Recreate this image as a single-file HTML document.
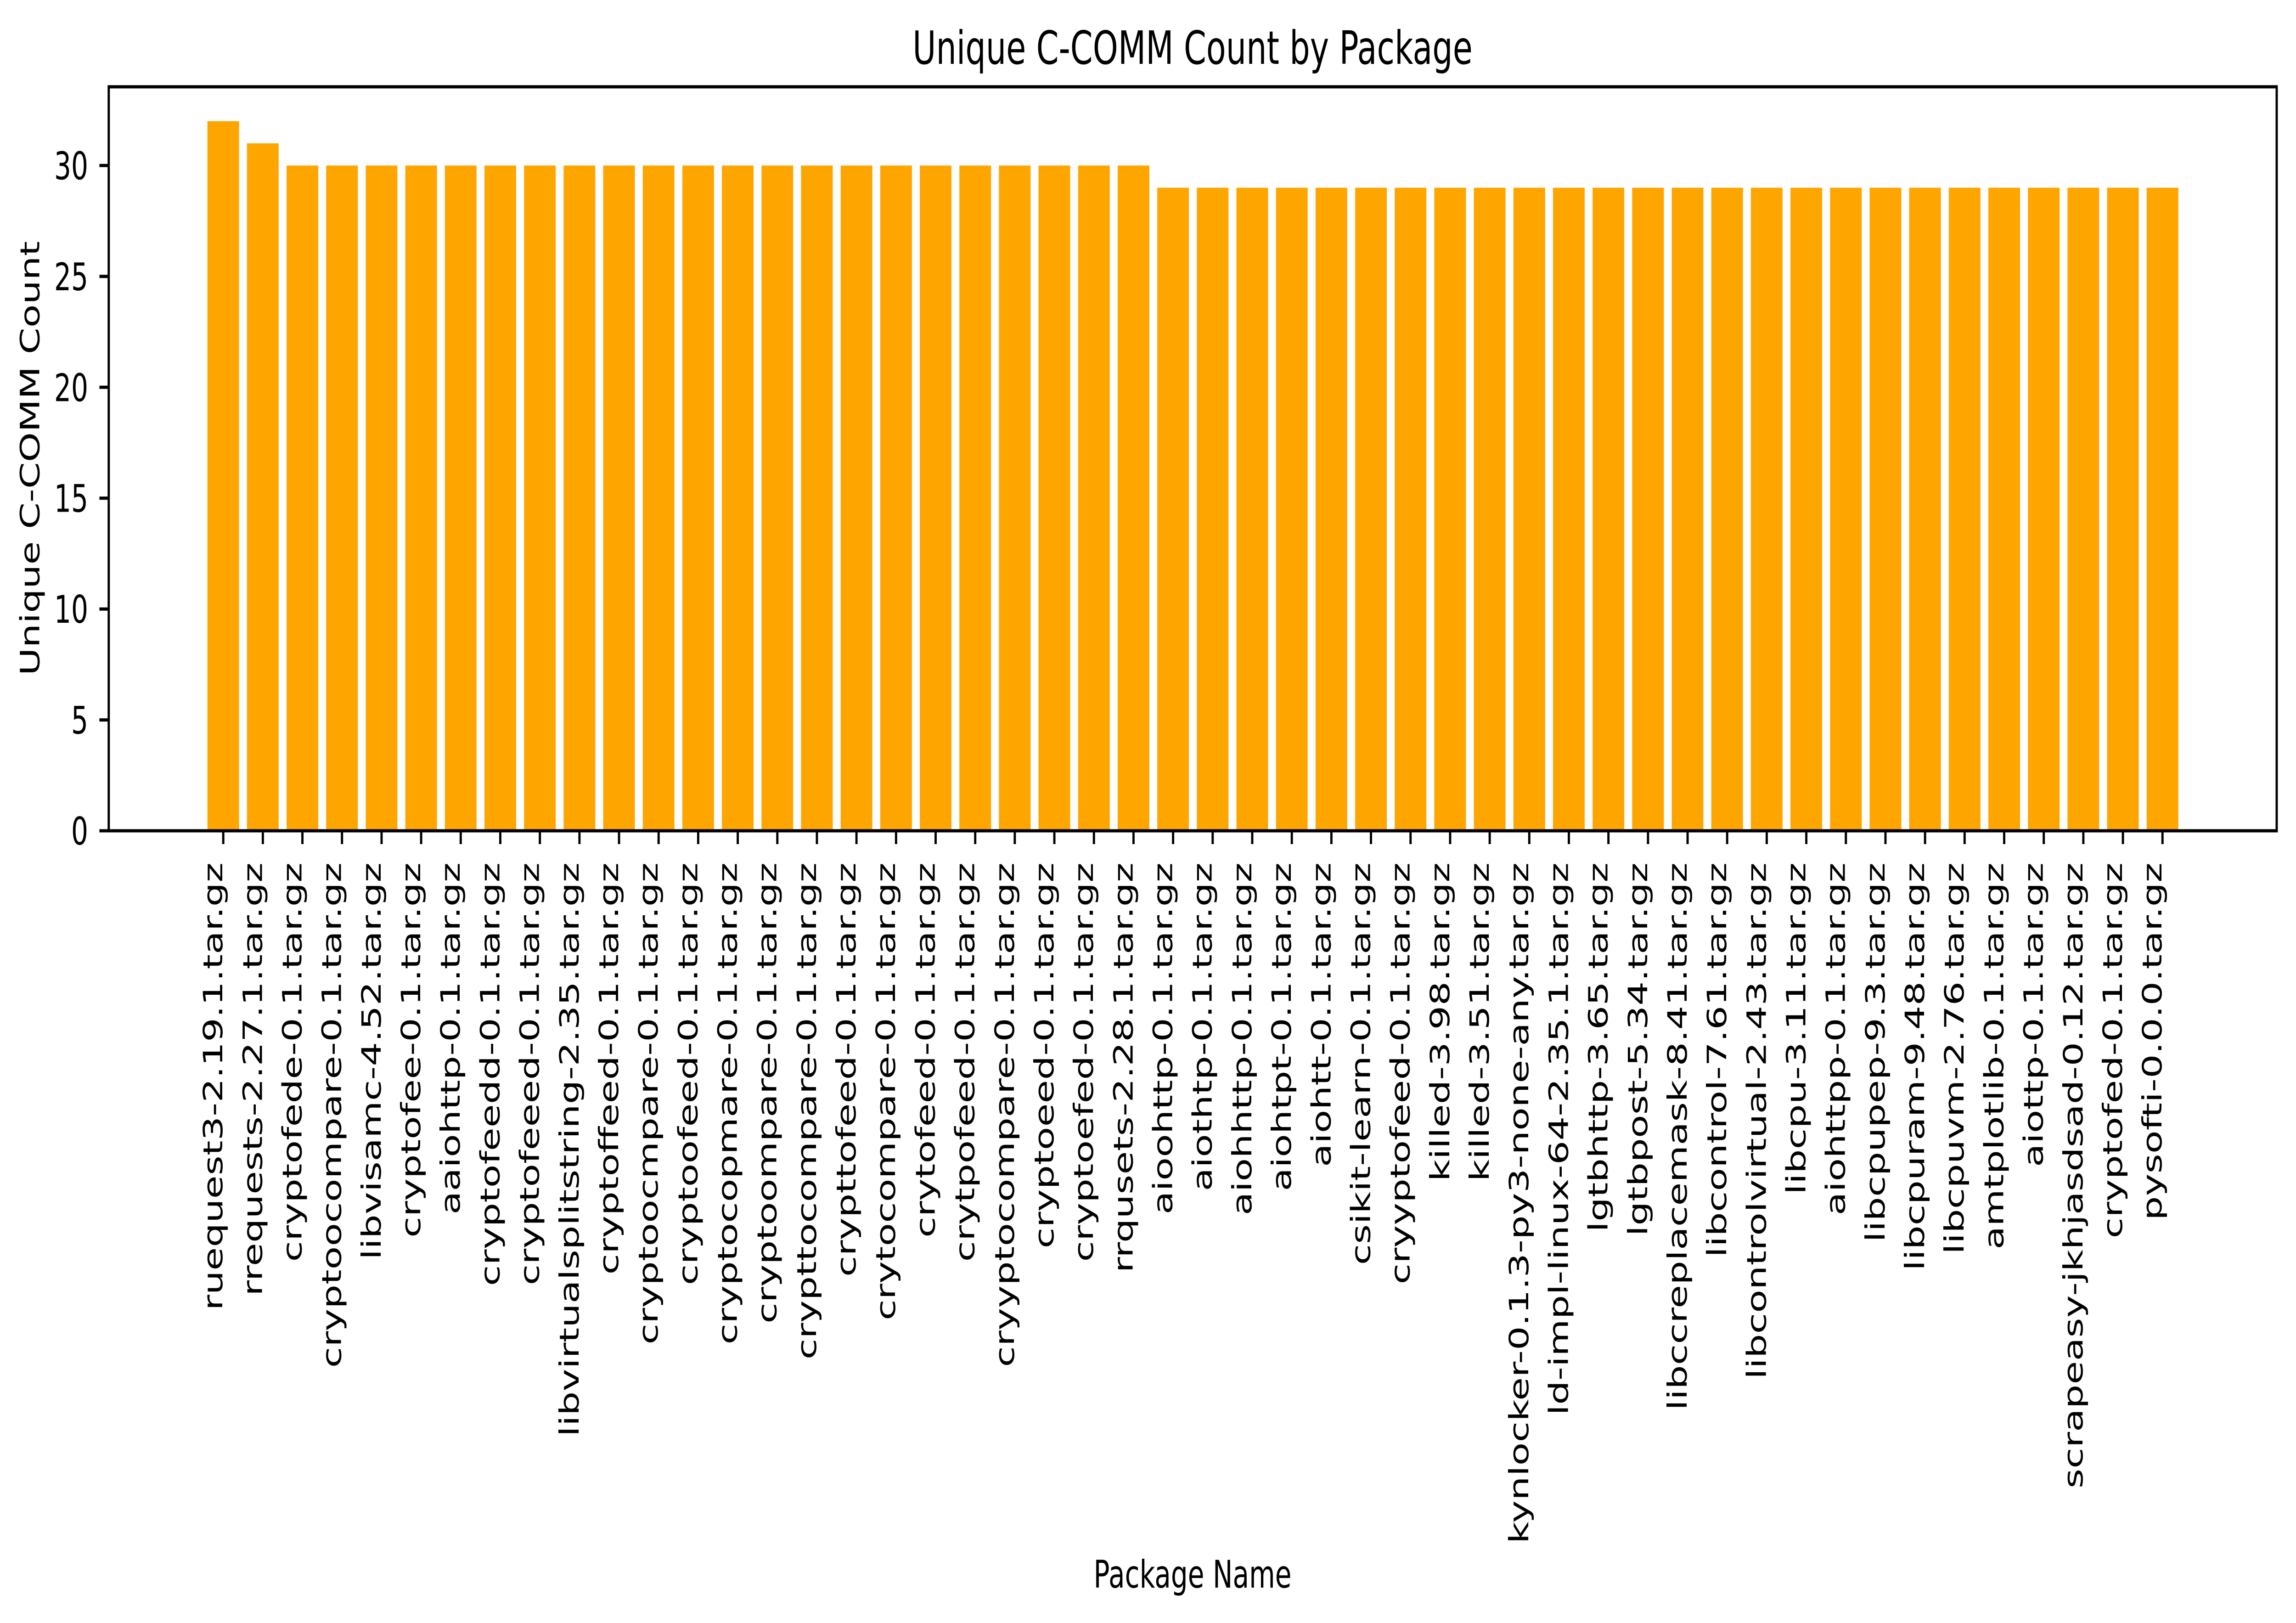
<!DOCTYPE html>
<html><head><meta charset="utf-8"><style>
html,body{margin:0;padding:0;background:#fff;width:100%;height:100%;overflow:hidden;}
svg{display:block;width:100vw;height:100vh;font-family:"DejaVu Sans","Liberation Sans",sans-serif;}
</style></head><body>
<svg id="chart" viewBox="0 0 7137 3534" preserveAspectRatio="none" xmlns="http://www.w3.org/2000/svg">
<rect width="7137" height="3534" fill="#fff"/>
<text x="3707" y="139" font-size="100" text-anchor="middle">Unique C-COMM Count by Package</text>
<g id="bars"></g>
<g id="xticks"></g>
<g id="yticks"></g>
<rect x="338" y="189" width="6739" height="1620" fill="none" stroke="#000" stroke-width="7"/>
<text transform="translate(122,998) rotate(-90)" font-size="83" text-anchor="middle">Unique C-COMM Count</text>
<text x="3707" y="3457" font-size="83" text-anchor="middle">Package Name</text>
</svg>
<script>
const categories = ["ruequest3-2.19.1.tar.gz","rrequests-2.27.1.tar.gz","cryptofede-0.1.tar.gz","cryptoocompare-0.1.tar.gz","libvisamc-4.52.tar.gz","cryptofee-0.1.tar.gz","aaiohttp-0.1.tar.gz","cryptofeedd-0.1.tar.gz","cryptofeeed-0.1.tar.gz","libvirtualsplitstring-2.35.tar.gz","cryptoffeed-0.1.tar.gz","cryptoocmpare-0.1.tar.gz","cryptoofeed-0.1.tar.gz","cryptocopmare-0.1.tar.gz","cryptoompare-0.1.tar.gz","crypttocompare-0.1.tar.gz","crypttofeed-0.1.tar.gz","crytocompare-0.1.tar.gz","crytofeed-0.1.tar.gz","crytpofeed-0.1.tar.gz","cryyptocompare-0.1.tar.gz","cryptoeed-0.1.tar.gz","cryptoefed-0.1.tar.gz","rrqusets-2.28.1.tar.gz","aioohttp-0.1.tar.gz","aiothtp-0.1.tar.gz","aiohhttp-0.1.tar.gz","aiohtpt-0.1.tar.gz","aiohtt-0.1.tar.gz","csikit-learn-0.1.tar.gz","cryyptofeed-0.1.tar.gz","killed-3.98.tar.gz","killed-3.51.tar.gz","kynlocker-0.1.3-py3-none-any.tar.gz","ld-impl-linux-64-2.35.1.tar.gz","lgtbhttp-3.65.tar.gz","lgtbpost-5.34.tar.gz","libccreplacemask-8.41.tar.gz","libcontrol-7.61.tar.gz","libcontrolvirtual-2.43.tar.gz","libcpu-3.11.tar.gz","aiohttpp-0.1.tar.gz","libcpupep-9.3.tar.gz","libcpuram-9.48.tar.gz","libcpuvm-2.76.tar.gz","amtplotlib-0.1.tar.gz","aiottp-0.1.tar.gz","scrapeasy-jkhjasdsad-0.12.tar.gz","cryptofed-0.1.tar.gz","pysofti-0.0.0.tar.gz"];
const values = [32,31,30,30,30,30,30,30,30,30,30,30,30,30,30,30,30,30,30,30,30,30,30,30,29,29,29,29,29,29,29,29,29,29,29,29,29,29,29,29,29,29,29,29,29,29,29,29,29,29];
const yTicks = [0,5,10,15,20,25,30];

const NS = "http://www.w3.org/2000/svg";
const plotLeft = 338, plotRight = 7077, plotTop = 189, plotBottom = 1809;
const yMax = 33.55;
function yScale(v){ return plotBottom - v / yMax * (plotBottom - plotTop); }
const n = categories.length;
const firstX = 694, lastX = 6722;
const pitch = n > 1 ? (lastX - firstX) / (n - 1) : 0;
function xScale(i){ return firstX + i * pitch; }
const barW = pitch * 0.8;

const bars = document.getElementById('bars');
const xt = document.getElementById('xticks');
const yt = document.getElementById('yticks');

categories.forEach((c, i) => {
  const x = xScale(i);
  const r = document.createElementNS(NS, 'rect');
  
  
  r.setAttribute('x', x - barW / 2);
  r.setAttribute('y', yScale(values[i]));
  r.setAttribute('width', barW);
  r.setAttribute('height', plotBottom - yScale(values[i]));
  r.setAttribute('fill', '#ffa500');
  bars.appendChild(r);

  const t = document.createElementNS(NS, 'line');
  
  
  t.setAttribute('x1', x); t.setAttribute('x2', x);
  t.setAttribute('y1', plotBottom); t.setAttribute('y2', plotBottom + 29);
  t.setAttribute('stroke', '#000'); t.setAttribute('stroke-width', '7');
  xt.appendChild(t);

  const l = document.createElementNS(NS, 'text');
  
  
  l.setAttribute('transform', 'translate(' + (x - 3) + ',1878) rotate(-90)');
  l.setAttribute('text-anchor', 'end');
  l.setAttribute('font-size', '83');
  l.textContent = c;
  xt.appendChild(l);
});

yTicks.forEach(v => {
  const y = yScale(v);
  const t = document.createElementNS(NS, 'line');
  
  
  t.setAttribute('x1', plotLeft - 29); t.setAttribute('x2', plotLeft);
  t.setAttribute('y1', y); t.setAttribute('y2', y);
  t.setAttribute('stroke', '#000'); t.setAttribute('stroke-width', '7');
  yt.appendChild(t);
  const l = document.createElementNS(NS, 'text');
  
  
  l.setAttribute('x', 274);
  l.setAttribute('y', y + 30);
  l.setAttribute('text-anchor', 'end');
  l.setAttribute('font-size', '83');
  l.textContent = v;
  yt.appendChild(l);
});
</script>
</body></html>
